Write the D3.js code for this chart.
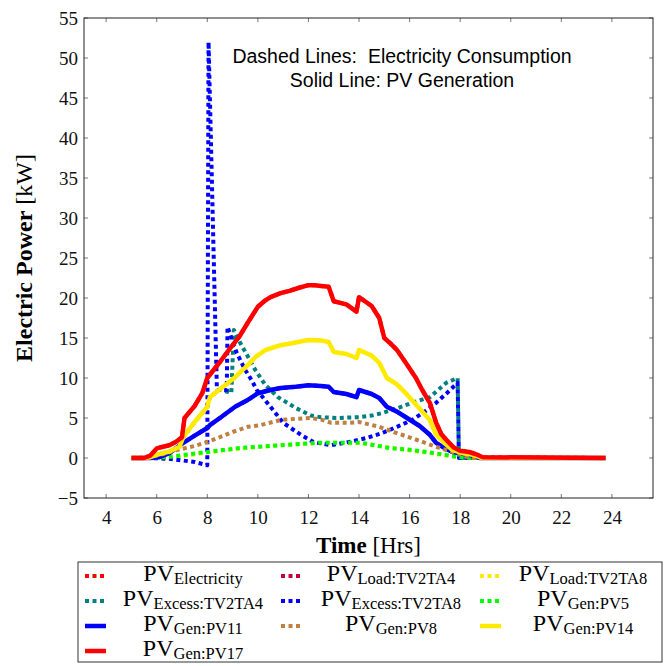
<!DOCTYPE html>
<html><head><meta charset="utf-8">
<script src="https://cdn.jsdelivr.net/npm/d3@7/dist/d3.min.js"></script>
<style>body{margin:0;background:#fff}</style></head>
<body><svg id="c" width="670" height="666"></svg>
<script>
// ---------- data ----------
const xTicks = [4,6,8,10,12,14,16,18,20,22,24];
const yTicks = [-5,0,5,10,15,20,25,30,35,40,45,50,55];

const pv17T = [5.0,5.5,5.75,6.0,6.25,6.5,6.75,7.0,7.1,7.5,7.8,8.0,8.5,8.9,9.25,9.6,10.0,10.25,10.5,10.9,11.25,11.6,12.0,12.25,12.5,12.8,13.0,13.5,13.9,14.0,14.5,14.8,15.0,15.25,15.5,15.85,16.25,16.5,16.8,17.05,17.25,17.5,17.75,18.0,18.35,18.6,18.9,23.75];
const pv17V = [0,0,0.3,1.2,1.4,1.6,2.0,2.6,5.0,6.5,8.1,10.0,12,13.7,15.1,16.9,18.9,19.6,20.1,20.6,20.9,21.25,21.6,21.6,21.5,21.4,19.6,19.2,18.3,20.1,19,17.5,15,14.3,13.5,11.9,10,8.5,6.9,4.4,3,2.1,1.3,0.9,0.75,0.5,0.1,0];

const pv14T = [5.0,5.5,5.75,6.0,6.5,6.9,7.05,7.5,8.0,8.1,8.5,9.1,9.5,9.9,10.3,10.9,11.6,12.0,12.5,12.8,13.0,13.5,13.9,14.0,14.5,14.8,15.1,15.5,15.85,16.25,16.8,17.05,17.4,17.7,18.1,18.5,18.9,23.75];
const pv14V = [0,0,0.1,0.4,0.8,1.4,2.6,4.5,6.4,7.6,8.6,10.1,11.3,12.6,13.5,14.1,14.5,14.75,14.7,14.5,13.25,13,12.5,13.5,12.8,11.9,10,9.2,8.1,6.7,4.75,2.9,1.8,1,0.6,0.4,0,0];

const pv11T = [5.0,5.5,5.75,6.1,6.5,7.05,7.5,8.0,8.1,8.5,9.1,9.6,10.0,10.5,10.9,11.5,12.0,12.5,12.8,13.0,13.5,13.9,14.0,14.5,14.8,15.1,15.5,15.9,16.4,16.8,17.05,17.4,17.7,18.35,18.8,23.75];
const pv11V = [0,0,0,0.1,0.6,1.9,2.8,3.75,4.1,5,6.4,7.25,8.1,8.5,8.75,8.9,9.1,9.0,8.9,8.25,8.0,7.6,8.5,8.0,7.5,6.4,5.8,5,4,2.9,1.9,1.2,0.75,0.4,0,0];

const pv8T = [5.0,5.75,6.25,6.8,7.5,8.0,8.5,9.0,9.6,10.1,10.9,11.5,12.1,12.5,12.9,13.6,14.0,14.8,15.5,16.3,17.05,17.85,18.4,23.75];
const pv8V = [0,0.1,0.5,1,1.5,2,2.6,3.25,3.9,4.1,4.75,4.9,5,4.8,4.4,4.4,4.5,3.9,3.1,2.25,1.4,0.6,0,0];

const pv5T = [5.0,5.75,6.4,7.0,8.0,9.3,10.9,12.3,13.0,14.1,15.2,16.1,17.2,17.95,18.5,23.75];
const pv5V = [0,0,0.1,0.35,0.75,1.25,1.6,1.9,1.9,1.9,1.25,1,0.5,0.1,0,0];

const loadTA8T = [5.0,5.75,6.4,7.0,8.0,9.3,10.9,12.3,13.0,14.1,15.2,16.1,17.2,17.95,18.5,23.75];
const loadTA8V = [0,0,-0.1,0.2,0.7,1.2,1.6,1.85,1.9,1.85,1.3,0.9,0.45,0.05,0,0];

const excessTA4T = [5.0,5.5,5.75,6.0,6.5,6.9,7.05,7.5,8.0,8.1,8.5,8.95,9.05,9.3,9.6,9.9,10.3,10.8,11.5,12.1,12.5,13.1,14.0,14.5,14.9,15.5,16.1,16.8,17.45,17.9,17.95,18.5,23.75];
const excessTA4V = [0,0,0.1,0.4,0.8,1.4,2.6,4.5,6.4,7.6,8.6,8.1,16,14.4,12.7,11,9.1,7.6,6.25,5.3,5.1,5,5.1,5.3,5.6,6.2,6.9,7.6,9.4,10,0,0,0];

const excessTA8T = [5.0,5.75,6.5,7.0,7.5,8.0,8.05,8.38,8.77,8.8,8.9,9.17,9.5,9.75,9.96,10.5,11.0,11.7,12.2,12.9,13.6,14.3,14.9,15.5,16.1,16.6,17.05,17.5,17.9,17.95,18.5,23.75];
const excessTA8V = [0,0,-0.1,-0.3,-0.5,-0.9,52,8.5,8.5,16.4,15.5,13.1,11,9.75,8.5,6.4,4.4,2.9,2,1.6,2,2.5,3.1,3.9,4.75,5.8,6.9,8.2,9.4,0,0,0];

// hidden series (covered by the solid lines drawn later)
const electricityT = pv17T;
const electricityV = pv17V;
const loadTA4T = pv11T;
const loadTA4V = pv11V;

const seriesNames = ["Electricity","Load:TV2TA4","Load:TV2TA8","Excess:TV2TA4","Excess:TV2TA8","Gen:PV5","Gen:PV11","Gen:PV8","Gen:PV14","Gen:PV17"];
const seriesColors = ["#ff0000","#bf0040","#ffea00","#008080","#0000ff","#00ff00","#0000ff","#bf8040","#ffea00","#ff0000"];
const seriesDotted = [true,true,true,true,true,true,false,true,false,false];
const seriesT = [electricityT,loadTA4T,loadTA8T,excessTA4T,excessTA8T,pv5T,pv11T,pv8T,pv14T,pv17T];
const seriesV = [electricityV,loadTA4V,loadTA8V,excessTA4V,excessTA8V,pv5V,pv11V,pv8V,pv14V,pv17V];

// ---------- drawing ----------
const svg = d3.select("#c");
const L=84,R=653,T=18,B=498;
const x = d3.scaleLinear().domain([3.125,25.625]).range([L,R]);
const y = d3.scaleLinear().domain([-5,55]).range([B,T]);
const serif = "'Liberation Serif','DejaVu Serif',serif";

svg.append("defs").append("clipPath").attr("id","clip")
  .append("rect").attr("x",L).attr("y",T).attr("width",R-L).attr("height",B-T);

// ticks (inside, mirrored)
const tk = svg.append("g").attr("stroke","#555").attr("stroke-width",0.8);
xTicks.forEach(t=>{
  tk.append("line").attr("x1",x(t)).attr("x2",x(t)).attr("y1",B).attr("y2",B-4);
  tk.append("line").attr("x1",x(t)).attr("x2",x(t)).attr("y1",T).attr("y2",T+4);
});
yTicks.forEach(t=>{
  tk.append("line").attr("y1",y(t)).attr("y2",y(t)).attr("x1",L).attr("x2",L+4);
  tk.append("line").attr("y1",y(t)).attr("y2",y(t)).attr("x1",R).attr("x2",R-4);
});

const xa = svg.append("g").attr("transform",`translate(0,${B})`)
  .call(d3.axisBottom(x).tickValues(xTicks).tickSize(0).tickPadding(13));
xa.select(".domain").remove();
xa.selectAll("text").attr("font-family",serif).attr("font-size",19).attr("fill","#111");
const ya = svg.append("g").attr("transform",`translate(${L},0)`)
  .call(d3.axisLeft(y).tickValues(yTicks).tickSize(0).tickPadding(6).tickFormat(d=>d<0?"\u2212"+Math.abs(d):d));
ya.select(".domain").remove();
ya.selectAll("text").attr("font-family",serif).attr("font-size",19).attr("fill","#111");

// lines
const line = d3.line().x(d=>x(d[0])).y(d=>y(d[1]));
const pl = svg.append("g").attr("clip-path","url(#clip)");
seriesNames.forEach((n,i)=>{
  const pts = seriesT[i].map((t,j)=>[t,seriesV[i][j]]);
  pl.append("path").datum(pts).attr("d",line).attr("fill","none")
    .attr("stroke",seriesColors[i])
    .attr("stroke-width",seriesDotted[i]?4:4.5)
    .attr("stroke-dasharray",seriesDotted[i]?"4,3.5":null)
    .attr("stroke-linejoin","round");
});

// frame
svg.append("rect").attr("x",L).attr("y",T).attr("width",R-L).attr("height",B-T)
  .attr("fill","none").attr("stroke","#222").attr("stroke-width",1);

// annotation
const ann = svg.append("g").attr("font-family","'Liberation Sans',Arial,sans-serif").attr("font-size",19.5).attr("fill","#000").attr("text-anchor","middle");
ann.append("text").attr("x",402).attr("y",63).style("white-space","pre").text("Dashed Lines:  Electricity Consumption");
ann.append("text").attr("x",402).attr("y",87).text("Solid Line: PV Generation");

// axis titles
const xt = svg.append("text").attr("x",(L+R)/2).attr("y",553).attr("text-anchor","middle")
  .attr("font-family",serif).attr("font-size",23);
xt.append("tspan").attr("font-weight","bold").text("Time");
xt.append("tspan").text(" [Hrs]");
const yt = svg.append("text").attr("transform",`translate(32,${(T+B)/2}) rotate(-90)`).attr("text-anchor","middle")
  .attr("font-family",serif).attr("font-size",24);
yt.append("tspan").attr("font-weight","bold").text("Electric Power");
yt.append("tspan").text(" [kW]");

// legend
const lg = svg.append("g");
lg.append("rect").attr("x",78).attr("y",562).attr("width",584).attr("height",100)
  .attr("fill","#fff").attr("stroke","#333").attr("stroke-width",1);
const colSample = [85,281,480];
const colCenter = [193,391,583];
const rowY = [576,601,626,651];
seriesNames.forEach((n,i)=>{
  const c=i%3, r=Math.floor(i/3);
  const yy=rowY[r];
  lg.append("line").attr("x1",colSample[c]).attr("x2",colSample[c]+21).attr("y1",yy).attr("y2",yy)
    .attr("stroke",seriesColors[i]).attr("stroke-width",seriesDotted[i]?4:4.5)
    .attr("stroke-dasharray",seriesDotted[i]?"4,3.5":null);
  const tx = lg.append("text").attr("x",colCenter[c]).attr("y",yy+5).attr("text-anchor","middle")
    .attr("font-family",serif);
  tx.append("tspan").attr("font-size",24).text("PV");
  tx.append("tspan").attr("font-size",16.5).attr("dy",3).text(n);
});
</script></body></html>
